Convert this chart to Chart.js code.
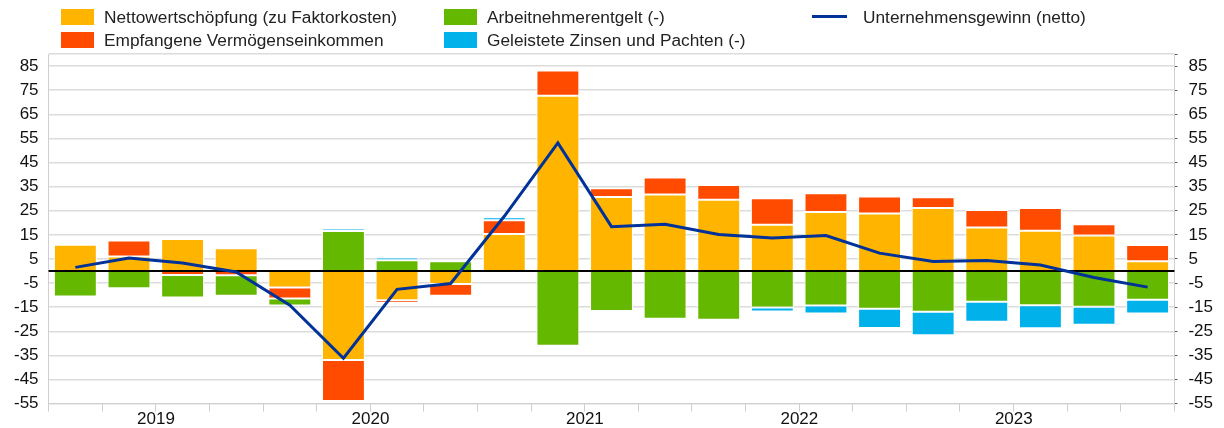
<!DOCTYPE html>
<html>
<head>
<meta charset="utf-8">
<script src="https://cdn.jsdelivr.net/npm/chart.js@4"></script>
<style>
  body { margin: 0; background: #fff; font-family: "Liberation Sans", Arial, sans-serif; }
  #wrap { position: relative; width: 1224px; height: 428px; }
  #chart { position: absolute; left: 0; top: 0; }
  .lg { position: absolute; font-size: 17.3px; color: #222; line-height: 20px; white-space: nowrap; }
  .lg i { position: absolute; left: -43px; top: 2px; width: 33px; height: 16px; }
  .lg i.ln { height: 3px; top: 8px; width: 35px; left: -51px; }
</style>
</head>
<body>
<div id="wrap">
  <canvas id="chart" width="1224" height="428"></canvas>
  <div class="lg" style="left:104px; top:7px"><i style="background:#FFB400"></i>Nettowertschöpfung (zu Faktorkosten)</div>
  <div class="lg" style="left:104px; top:30px"><i style="background:#FF4B00"></i>Empfangene Vermögenseinkommen</div>
  <div class="lg" style="left:487px; top:7px"><i style="background:#65B800"></i>Arbeitnehmerentgelt (-)</div>
  <div class="lg" style="left:487px; top:30px"><i style="background:#00B1EA"></i>Geleistete Zinsen und Pachten (-)</div>
  <div class="lg" style="left:863px; top:7px"><i class="ln" style="background:#003299"></i>Unternehmensgewinn (netto)</div>
</div>
<script>
const quarters = ['2019Q1','2019Q2','2019Q3','2019Q4','2020Q1','2020Q2','2020Q3','2020Q4',
  '2021Q1','2021Q2','2021Q3','2021Q4','2022Q1','2022Q2','2022Q3','2022Q4',
  '2023Q1','2023Q2','2023Q3','2023Q4','2024Q1'];
const yearLabels = ['2019','2020','2021','2022','2023'];

const nettowertschoepfung = [10.9, 6.0, 13.3, 9.4, -6.8, -36.9, -12.1, -5.4, 15.3, 72.7, 30.7, 31.7, 29.6, 19.2, 24.5, 23.8, 26.1, 18.0, 16.7, 14.7, 4.0];
const vermoegenseinkommen = [0.8, 6.6, -1.7, -1.8, -4.6, -17.0, -1.2, -4.9, 5.7, 10.5, 3.6, 7.1, 6.1, 11.0, 7.7, 7.1, 4.5, 7.3, 9.4, 4.7, 6.8];
const arbeitnehmerentgelt = [-10.6, -7.2, -9.3, -8.5, -2.9, 16.6, 4.5, 4.0, 0, -31.0, -16.6, -19.8, -20.2, -15.1, -14.3, -15.7, -16.9, -12.8, -14.2, -14.8, -11.9];
const zinsenPachten = [0, 0, 0, 0, 0, 1.0, 1.1, 0.8, 1.3, 0.7, 0, 0, 0, -1.7, -3.3, -7.9, -9.7, -8.3, -9.5, -7.5, -5.7];
const unternehmensgewinn = [1.5, 5.4, 3.3, -0.4, -14.2, -36.2, -7.6, -5.2, 22.7, 53.1, 18.4, 19.4, 15.1, 13.7, 14.7, 7.4, 3.9, 4.4, 2.5, -2.7, -6.7];

const yTickValues = [-55, -45, -35, -25, -15, -5, 5, 15, 25, 35, 45, 55, 65, 75, 85];
const yMin = -55, yMax = 90;

function setTicks(axis) {
  axis.ticks = yTickValues.concat([yMax]).map(v => ({ value: v }));
}

// zero line under the profit line but above the bars
const zeroLine = {
  id: 'zeroLine',
  beforeDatasetDraw(chart, args) {
    if (args.meta.type !== 'line') return;
    const y = chart.scales.y.getPixelForValue(0);
    const a = chart.chartArea;
    const c = chart.ctx;
    c.save();
    c.strokeStyle = '#000';
    c.lineWidth = 2;
    c.beginPath();
    c.moveTo(a.left, y);
    c.lineTo(a.right, y);
    c.stroke();
    c.restore();
  }
};

function bar(label, data, color) {
  return {
    type: 'bar', label, data, backgroundColor: color,
    borderColor: '#fff', borderWidth: 1, borderSkipped: false,
    barPercentage: 0.8, categoryPercentage: 1, order: 1, stack: 'a'
  };
}

const tickFont = { family: '"Liberation Sans", Arial, sans-serif', size: 17 };

new Chart(document.getElementById('chart'), {
  data: {
    labels: quarters,
    datasets: [
      { type: 'line', label: 'Unternehmensgewinn (netto)', data: unternehmensgewinn,
        borderColor: '#003299', borderWidth: 3, pointRadius: 0, tension: 0,
        order: 0, stack: 'line', fill: false },
      bar('Nettowertschöpfung (zu Faktorkosten)', nettowertschoepfung, '#FFB400'),
      bar('Empfangene Vermögenseinkommen', vermoegenseinkommen, '#FF4B00'),
      bar('Arbeitnehmerentgelt (-)', arbeitnehmerentgelt, '#65B800'),
      bar('Geleistete Zinsen und Pachten (-)', zinsenPachten, '#00B1EA')
    ]
  },
  options: {
    responsive: false,
    animation: false,
    layout: { padding: { top: 54, left: 4, right: 0, bottom: 0 } },
    plugins: { legend: { display: false }, tooltip: { enabled: false } },
    scales: {
      x: {
        stacked: true,
        grid: { offset: true, drawOnChartArea: false, color: '#cfcfcf', tickLength: 8 },
        border: { color: '#cfcfcf' },
        ticks: {
          autoSkip: false, maxRotation: 0, color: '#111', font: tickFont, padding: -2,
          labelOffset: 27,
          callback: (v, i) => (i % 4 === 1 && yearLabels[Math.floor(i / 4)]) ? yearLabels[Math.floor(i / 4)] : ''
        }
      },
      y: {
        stacked: true, min: yMin, max: yMax,
        afterBuildTicks: setTicks,
        grid: { color: '#dcdcdc', lineWidth: 1.5, drawTicks: false },
        border: { color: '#cfcfcf' },
        ticks: { autoSkip: false, color: '#111', font: tickFont, padding: 10,
          callback: v => v === yMax ? '' : v }
      },
      y2: {
        position: 'right', min: yMin, max: yMax,
        afterBuildTicks: setTicks,
        grid: { drawOnChartArea: false, color: '#555', tickLength: 3 },
        border: { color: '#cfcfcf' },
        ticks: { autoSkip: false, color: '#111', font: tickFont, padding: 11,
          callback: v => v === yMax ? '' : v }
      }
    }
  },
  plugins: [zeroLine]
});
</script>
</body>
</html>
